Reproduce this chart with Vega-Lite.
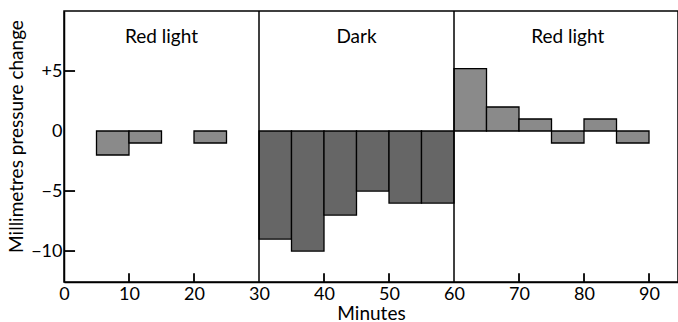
{
  "$schema": "https://vega.github.io/schema/vega-lite/v6.json",
  "width": 614,
  "height": 271,
  "autosize": {"type": "none"},
  "padding": {"left": 64, "top": 11, "right": 0, "bottom": 40},
  "background": "white",
  "config": {
    "font": "Lato",
    "view": {"stroke": "black", "strokeWidth": 1.5},
    "axis": {
      "domainColor": "black",
      "domainWidth": 1.5,
      "ticks": false,
      "labelColor": "black",
      "labelFontSize": 18,
      "labelFont": "Lato",
      "titleFont": "Lato",
      "titleFontSize": 19,
      "titleFontWeight": "normal",
      "titleColor": "black",
      "grid": false,
      "zindex": 1
    }
  },
  "datasets": {
    "bars": [
      {"start": 5, "end": 10, "change": -2, "condition": "Red light"},
      {"start": 10, "end": 15, "change": -1, "condition": "Red light"},
      {"start": 20, "end": 25, "change": -1, "condition": "Red light"},
      {"start": 30, "end": 35, "change": -9, "condition": "Dark"},
      {"start": 35, "end": 40, "change": -10, "condition": "Dark"},
      {"start": 40, "end": 45, "change": -7, "condition": "Dark"},
      {"start": 45, "end": 50, "change": -5, "condition": "Dark"},
      {"start": 50, "end": 55, "change": -6, "condition": "Dark"},
      {"start": 55, "end": 60, "change": -6, "condition": "Dark"},
      {"start": 60, "end": 65, "change": 5.2, "condition": "Red light"},
      {"start": 65, "end": 70, "change": 2, "condition": "Red light"},
      {"start": 70, "end": 75, "change": 1, "condition": "Red light"},
      {"start": 75, "end": 80, "change": -1, "condition": "Red light"},
      {"start": 80, "end": 85, "change": 1, "condition": "Red light"},
      {"start": 85, "end": 90, "change": -1, "condition": "Red light"}
    ],
    "labels": [
      {"x": 15, "y": 7.8, "label": "Red light"},
      {"x": 45, "y": 7.8, "label": "Dark"},
      {"x": 77.5, "y": 7.8, "label": "Red light"}
    ],
    "dividers": [{"x": 30}, {"x": 60}],
    "xticks": [{"t": 10}, {"t": 20}, {"t": 40}, {"t": 50}, {"t": 70}, {"t": 80}, {"t": 90}],
    "yticks": [{"t": -10}, {"t": -5}, {"t": 5}]
  },
  "layer": [
    {
      "data": {"name": "bars"},
      "mark": {"type": "rect", "stroke": "black", "strokeWidth": 1.3},
      "encoding": {
        "x": {
          "field": "start",
          "type": "quantitative",
          "scale": {"domain": [0, 94.46], "nice": false, "zero": false},
          "axis": {
            "values": [0, 10, 20, 30, 40, 50, 60, 70, 80, 90],
            "title": "Minutes",
            "labelFlush": false,
            "labelPadding": 3,
            "titlePadding": 1
          }
        },
        "x2": {"field": "end"},
        "y": {
          "field": "change",
          "type": "quantitative",
          "scale": {"domain": [-12.58, 10], "nice": false},
          "axis": {
            "values": [-10, -5, 0, 5],
            "labelExpr": "datum.value > 0 ? '+' + datum.label : datum.label",
            "title": "Millimetres pressure change",
            "labelPadding": 2,
            "titlePadding": 4,
            "titleY": 125
          }
        },
        "y2": {"datum": 0},
        "color": {
          "field": "condition",
          "type": "nominal",
          "scale": {"domain": ["Red light", "Dark"], "range": ["#8a8a8a", "#666666"]},
          "legend": null
        }
      }
    },
    {
      "mark": {"type": "rule", "color": "black", "strokeWidth": 1.3},
      "encoding": {"y": {"datum": 0}}
    },
    {
      "data": {"name": "dividers"},
      "mark": {"type": "rule", "color": "black", "strokeWidth": 1.5},
      "encoding": {"x": {"field": "x", "type": "quantitative"}}
    },
    {
      "data": {"name": "xticks"},
      "mark": {"type": "rule", "color": "black", "strokeWidth": 1.8},
      "encoding": {
        "x": {"field": "t", "type": "quantitative"},
        "y": {"datum": -12.58},
        "y2": {"datum": -11.85}
      }
    },
    {
      "data": {"name": "yticks"},
      "mark": {"type": "rule", "color": "black", "strokeWidth": 1.8},
      "encoding": {
        "y": {"field": "t", "type": "quantitative"},
        "x": {"datum": 0},
        "x2": {"datum": 1.7}
      }
    },
    {
      "data": {"name": "labels"},
      "mark": {"type": "text", "fontSize": 19, "font": "Lato", "color": "black", "letterSpacing": 0.8},
      "encoding": {
        "x": {"field": "x", "type": "quantitative"},
        "y": {"field": "y", "type": "quantitative"},
        "text": {"field": "label"}
      }
    }
  ]
}
